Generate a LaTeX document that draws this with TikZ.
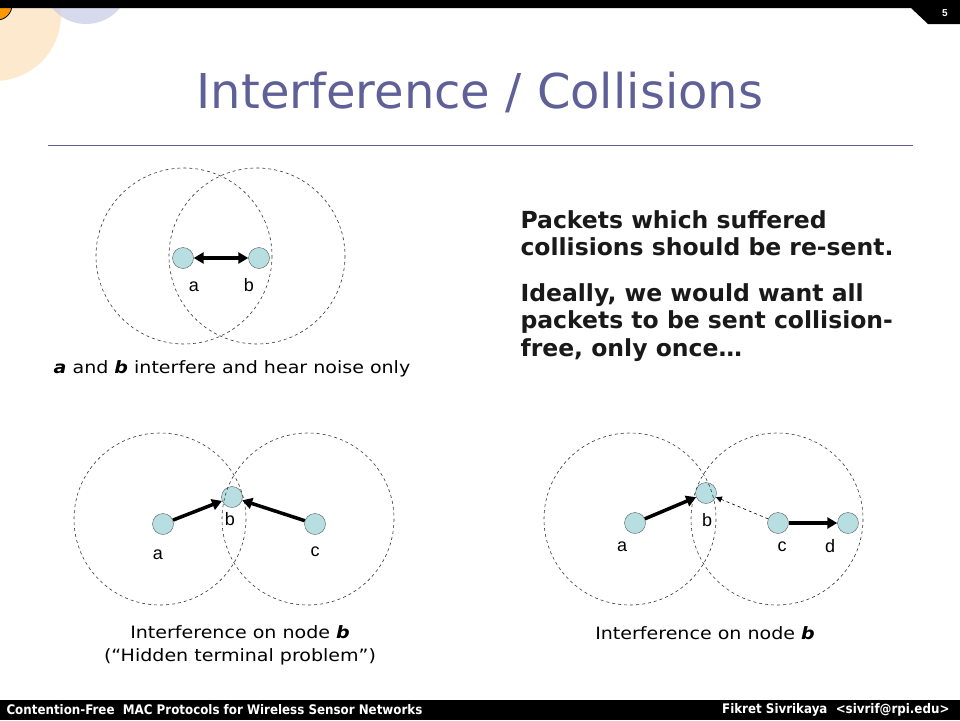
\documentclass[tikz,border=0pt]{standalone}
\usepackage{fontspec}
\setmainfont{DejaVu Sans}
\newfontfamily\labelfont{Liberation Sans}
\newfontfamily\capfont[FakeStretch=1.12,Ligatures=TeX]{DejaVu Sans}
\newfontfamily\footfont{DejaVu Sans Condensed}
\usetikzlibrary{arrows.meta}
\definecolor{titleblue}{RGB}{96,96,152}
\definecolor{nodeblue}{RGB}{183,222,224}
\definecolor{peach}{RGB}{253,234,206}
\definecolor{lavender}{RGB}{205,207,232}
\definecolor{dotorange}{RGB}{255,153,0}

\begin{document}
\begin{tikzpicture}[x=1pt, y=-1pt,
  station/.style = {circle, draw=black!65, fill=nodeblue, minimum size=21pt, inner sep=0pt},
  reach/.style = {dashed, black!80, line width=0.6pt},
  lbl/.style = {font=\labelfont\fontsize{18}{18}\selectfont},
  link/.style = {line width=3.5pt, -{Triangle[length=10pt,width=11pt]}},
  hint/.style = {dashed, line width=0.6pt, -{Triangle[length=6pt,width=6pt]}},
  caption/.style = {font=\capfont\fontsize{17}{23}\selectfont, align=center},
  bigtext/.style = {anchor=north west, align=left, font=\bfseries\fontsize{23.5}{27.5}\selectfont, text=black!90}]
\useasboundingbox (0,0) rectangle (960,720);
\fill[peach] (-5,15) circle (66);
\fill[lavender, opacity=0.8] (86,-20) circle (44);
\filldraw[fill=dotorange, draw=black, line width=0.8pt] (-3,5) circle (15);
\fill[black] (0,0) -- (960,0) -- (960,24) -- (928,24) -- (911,8) -- (0,8) -- cycle;
\node[text=white, font=\labelfont\bfseries\fontsize{10}{10}\selectfont] (page) at (945,13) {5};

\node[text=titleblue, font=\fontsize{48}{48}\selectfont] (title) at (480,92) {Interference / Collisions};
\draw[titleblue, line width=1pt] (48,145) -- (913,145);

\node[station] (a1) at (183,258) {};
\node[station] (b1) at (259,258) {};
\draw[reach] (184,256) circle (88);
\draw[reach] (257,256) circle (88);
\draw[line width=3.5pt, {Triangle[length=10pt,width=11pt]}-{Triangle[length=10pt,width=11pt]}] (a1) -- (b1);
\node[lbl] (la1) at (194,287) {a};
\node[lbl] (lb1) at (249,285) {b};
\node[caption] (cap1) at (232,369) {\textbf{\textit{a}} and \textbf{\textit{b}} interfere and hear noise only};

\node[bigtext] (txt1) at (517,207) {Packets which suffered\\collisions should be re-sent.};
\node[bigtext] (txt2) at (517,280) {Ideally, we would want all\\packets to be sent collision-\\free, only once\dots};

\node[station] (a2) at (163,524) {};
\node[station] (b2) at (232,497) {};
\node[station] (c2) at (315,524) {};
\draw[reach] (160,519) circle (86);
\draw[reach] (308,519) circle (86);
\draw[link] (a2) -- (b2);
\draw[link] (c2) -- (b2);
\node[lbl] (la2) at (158,555) {a};
\node[lbl] (lb2) at (230,519) {b};
\node[lbl] (lc2) at (315,552) {c};
\node[caption] (cap2) at (240,645) {Interference on node \textbf{\textit{b}}\\(“Hidden terminal problem”)};

\node[station] (a3) at (635,523) {};
\node[station] (b3) at (706,493) {};
\node[station] (c3) at (778,523) {};
\node[station] (d3) at (848,523) {};
\draw[reach] (630,519) circle (86);
\draw[reach] (777,519) circle (86);
\draw[link] (a3) -- (b3);
\draw[hint] (c3) -- (b3);
\draw[link] (c3) -- (d3);
\node[lbl] (la3) at (622,547) {a};
\node[lbl] (lb3) at (707,520) {b};
\node[lbl] (lc3) at (782,547) {c};
\node[lbl] (ld3) at (830,546) {d};
\node[caption] (cap3) at (705,633) {Interference on node \textbf{\textit{b}}};

\fill[black] (0,700) rectangle (960,720);
\node[anchor=west, text=white, font=\footfont\bfseries\fontsize{13.2}{13.2}\selectfont] (foot1) at (3,710) {Contention-Free\ \ MAC Protocols for Wireless Sensor Networks};
\node[anchor=east, text=white, font=\footfont\bfseries\fontsize{13.2}{13.2}\selectfont] (foot2) at (953,710) {Fikret Sivrikaya\ \ <sivrif@rpi.edu>};
\end{tikzpicture}
\end{document}
